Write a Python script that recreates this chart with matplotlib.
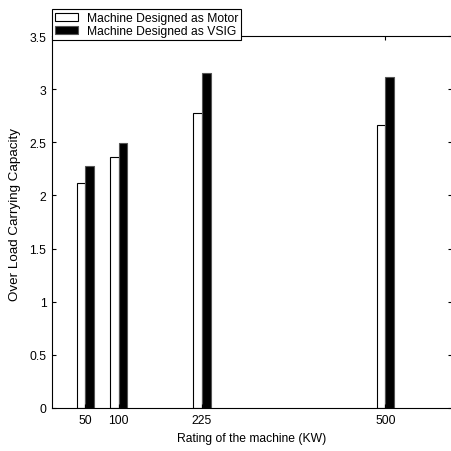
import numpy as np
import matplotlib.pyplot as plt

# datos
ratings = [50, 100, 225, 500]
motor = [2.12, 2.36, 2.78, 2.66]
vsig = [2.28, 2.49, 3.15, 3.11]
etiquetas = ["Machine Designed as Motor", "Machine Designed as VSIG"]

plt.rcParams["font.family"] = ["Liberation Sans", "DejaVu Sans"]
fs = 8.7

fig = plt.figure(figsize=(4.52, 4.52), dpi=100)
ax = fig.add_axes([52 / 452, 43 / 452, 400 / 452, 372 / 452])

x = np.array(ratings)
ancho = 13
ax.bar(x - ancho / 2, motor, width=ancho, color="white", edgecolor="black",
       linewidth=0.8, label=etiquetas[0])
ax.bar(x + ancho / 2, vsig, width=ancho, color="black", edgecolor="#555555",
       linewidth=0.8, label=etiquetas[1])

ax.set_xlim(0, 600)
ax.set_ylim(0, 3.5)
ax.set_xticks(ratings)
ax.set_xticklabels([str(r) for r in ratings])
ax.set_yticks(np.arange(0, 3.51, 0.5))
ax.set_yticklabels(["0", "0.5", "1", "1.5", "2", "2.5", "3", "3.5"])
ax.tick_params(direction="in", length=3, width=0.8, top=True, right=True,
               labelsize=fs, pad=4)
for s in ax.spines.values():
    s.set_linewidth(0.8)

ax.set_xlabel("Rating of the machine (KW)", fontsize=fs, labelpad=5)
ax.set_ylabel("Over Load Carrying Capacity", fontsize=9.6)
ax.yaxis.set_label_coords(-0.077, 0.524)

# leyenda arriba a la izquierda, montada sobre el borde superior
leg = fig.legend(loc="lower left", bbox_to_anchor=(52 / 452, (452 - 41) / 452),
                 bbox_transform=fig.transFigure, borderaxespad=0, fancybox=False,
                 framealpha=1, edgecolor="black", fontsize=fs,
                 handlelength=1.9, handleheight=0.7, labelspacing=0.05,
                 borderpad=0.25, handletextpad=0.75)
leg.get_frame().set_linewidth(0.8)

plt.savefig("out.png", dpi=100)
